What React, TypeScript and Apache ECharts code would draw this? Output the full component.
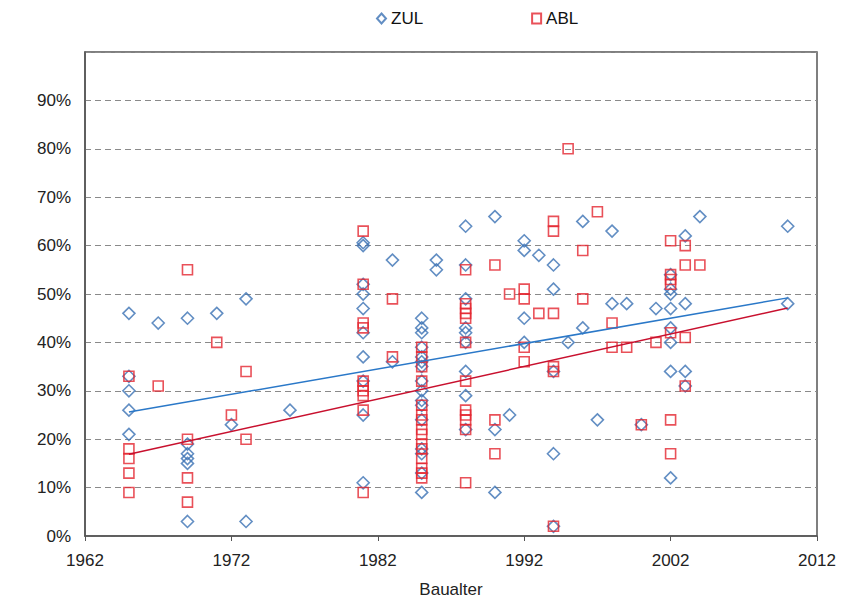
import React, { useEffect, useRef } from "react";
import * as echarts from "echarts";

const BASE_YEAR = 1962;
const X_MAX_YEAR = 2012;
const X_TICK_LABELS = ["1962", "1972", "1982", "1992", "2002", "2012"];
const Y_TICK_LABELS = ["0%", "10%", "20%", "30%", "40%", "50%", "60%", "70%", "80%", "90%"];

// [Baujahr, Anteil %]
const ZUL_POINTS: [number, number][] = [
  [1965, 46], [1965, 33], [1965, 30], [1965, 26], [1965, 21],
  [1967, 44],
  [1969, 45], [1969, 19], [1969, 17], [1969, 16], [1969, 15], [1969, 3],
  [1971, 46],
  [1972, 23],
  [1973, 49], [1973, 3],
  [1976, 26],
  [1981, 60], [1981, 60.6], [1981, 52], [1981, 50], [1981, 47], [1981, 42], [1981, 37], [1981, 32], [1981, 25], [1981, 11],
  [1983, 57], [1983, 36],
  [1985, 45], [1985, 43], [1985, 42], [1985, 39], [1985, 37], [1985, 36], [1985, 35], [1985, 32], [1985, 30], [1985, 28],
  [1985, 27], [1985, 24], [1985, 18], [1985, 17], [1985, 13], [1985, 9],
  [1986, 57], [1986, 55],
  [1988, 64], [1988, 56], [1988, 49], [1988, 43], [1988, 42], [1988, 40], [1988, 34], [1988, 29], [1988, 22],
  [1990, 66], [1990, 22], [1990, 9],
  [1991, 25],
  [1992, 61], [1992, 59], [1992, 45], [1992, 40],
  [1993, 58],
  [1994, 56], [1994, 51], [1994, 34], [1994, 17], [1994, 2],
  [1995, 40],
  [1996, 65], [1996, 43],
  [1997, 24],
  [1998, 63], [1998, 48],
  [1999, 48],
  [2000, 23],
  [2001, 47],
  [2002, 54], [2002, 51], [2002, 50], [2002, 47], [2002, 43], [2002, 40], [2002, 34], [2002, 12],
  [2003, 62], [2003, 48], [2003, 34], [2003, 31],
  [2004, 66],
  [2010, 64], [2010, 48],
];

const ABL_POINTS: [number, number][] = [
  [1965, 33], [1965, 18], [1965, 16], [1965, 13], [1965, 9],
  [1967, 31],
  [1969, 55], [1969, 20], [1969, 12], [1969, 7],
  [1971, 40],
  [1972, 25],
  [1973, 34], [1973, 20],
  [1981, 63], [1981, 52], [1981, 44], [1981, 43], [1981, 32], [1981, 31], [1981, 30], [1981, 29], [1981, 26], [1981, 9],
  [1983, 49], [1983, 37],
  [1985, 39], [1985, 37], [1985, 35], [1985, 32], [1985, 27], [1985, 25], [1985, 24], [1985, 22], [1985, 21],
  [1985, 19], [1985, 18], [1985, 16], [1985, 14], [1985, 13], [1985, 12],
  [1988, 55], [1988, 48], [1988, 47], [1988, 46], [1988, 45], [1988, 40], [1988, 32], [1988, 26], [1988, 25], [1988, 24], [1988, 22], [1988, 11],
  [1990, 56], [1990, 24], [1990, 17],
  [1991, 50],
  [1992, 51], [1992, 49], [1992, 39], [1992, 36],
  [1993, 46],
  [1994, 65], [1994, 63], [1994, 46], [1994, 35], [1994, 34], [1994, 2],
  [1995, 80],
  [1996, 59], [1996, 49],
  [1997, 67],
  [1998, 44], [1998, 39],
  [1999, 39],
  [2000, 23],
  [2001, 40],
  [2002, 61], [2002, 54], [2002, 53], [2002, 52], [2002, 42], [2002, 24], [2002, 17],
  [2003, 60], [2003, 56], [2003, 41], [2003, 31],
  [2004, 56],
];

const ZUL_TREND: [number, number][] = [[1965, 25.6], [2010, 49.2]];
const ABL_TREND: [number, number][] = [[1965, 16.9], [2010, 47.1]];

const BLUE = "#3b72b4";
const RED = "#e32530";
const BLUE_LINE = "#2a78c8";
const RED_LINE = "#c8102e";
const FONT = "'Liberation Sans Narrow', 'Liberation Sans', Arial, sans-serif";

const toXY = (pts: [number, number][]) => pts.map(([y, v]) => [y - BASE_YEAR, v]);

export default function App() {
  const ref = useRef<HTMLDivElement>(null);
  useEffect(() => {
    document.body.style.margin = "0";
    if (!ref.current) return;
    const chart = echarts.init(ref.current, undefined, { renderer: "svg" });
    chart.setOption({
      animation: false,
      backgroundColor: "#ffffff",
      textStyle: { fontFamily: FONT },
      legend: {
        data: [
          { name: "ZUL", icon: "diamond" },
          { name: "ABL", icon: "rect" },
        ],
        left: 371,
        top: 5,
        itemWidth: 9,
        itemHeight: 10,
        itemGap: 108,
        textStyle: { fontFamily: FONT, fontSize: 17, color: "#111" },
      },
      grid: {
        left: 85,
        right: 48,
        top: 52,
        bottom: 66,
        show: true,
        borderColor: "#555",
        borderWidth: 1.5,
        backgroundColor: "transparent",
      },
      xAxis: {
        type: "value",
        min: 0,
        max: X_MAX_YEAR - BASE_YEAR,
        interval: 10,
        name: "Baualter",
        nameLocation: "middle",
        nameGap: 45,
        nameTextStyle: { fontFamily: FONT, fontSize: 17, color: "#222" },
        axisLine: { show: true, lineStyle: { color: "#555", width: 1.5 } },
        axisTick: { show: true, inside: false, length: 5, lineStyle: { color: "#555" } },
        axisLabel: {
          margin: 16,
          fontSize: 17,
          color: "#222",
          fontFamily: FONT,
          formatter: (v: number) => X_TICK_LABELS[Math.round(v / 10)] ?? "",
        },
        splitLine: { show: false },
      },
      yAxis: {
        type: "value",
        min: 0,
        max: 100,
        interval: 10,
        axisLine: { show: true, lineStyle: { color: "#555", width: 1.5 } },
        axisTick: { show: false },
        axisLabel: {
          margin: 14,
          fontSize: 17,
          color: "#222",
          fontFamily: FONT,
          formatter: (v: number) => Y_TICK_LABELS[Math.round(v / 10)] ?? "",
        },
        splitLine: {
          show: true,
          lineStyle: { color: "#8a8a8a", type: [6, 4], width: 1 },
        },
      },
      series: [
        {
          name: "ZUL",
          type: "scatter",
          symbol: "diamond",
          symbolSize: [12, 12],
          data: toXY(ZUL_POINTS),
          itemStyle: { color: "transparent", borderColor: BLUE, borderWidth: 1.6 },
          z: 3,
        },
        {
          name: "ABL",
          type: "scatter",
          symbol: "rect",
          symbolSize: [10, 10],
          data: toXY(ABL_POINTS),
          itemStyle: { color: "transparent", borderColor: RED, borderWidth: 1.6 },
          z: 4,
        },
        {
          name: "ZUL Trend",
          type: "line",
          data: toXY(ZUL_TREND),
          symbol: "none",
          lineStyle: { color: BLUE_LINE, width: 1.5 },
          z: 5,
        },
        {
          name: "ABL Trend",
          type: "line",
          data: toXY(ABL_TREND),
          symbol: "none",
          lineStyle: { color: RED_LINE, width: 1.5 },
          z: 5,
        },
      ],
    });
    return () => chart.dispose();
  }, []);
  return <div ref={ref} style={{ width: 865, height: 603 }} />;
}
